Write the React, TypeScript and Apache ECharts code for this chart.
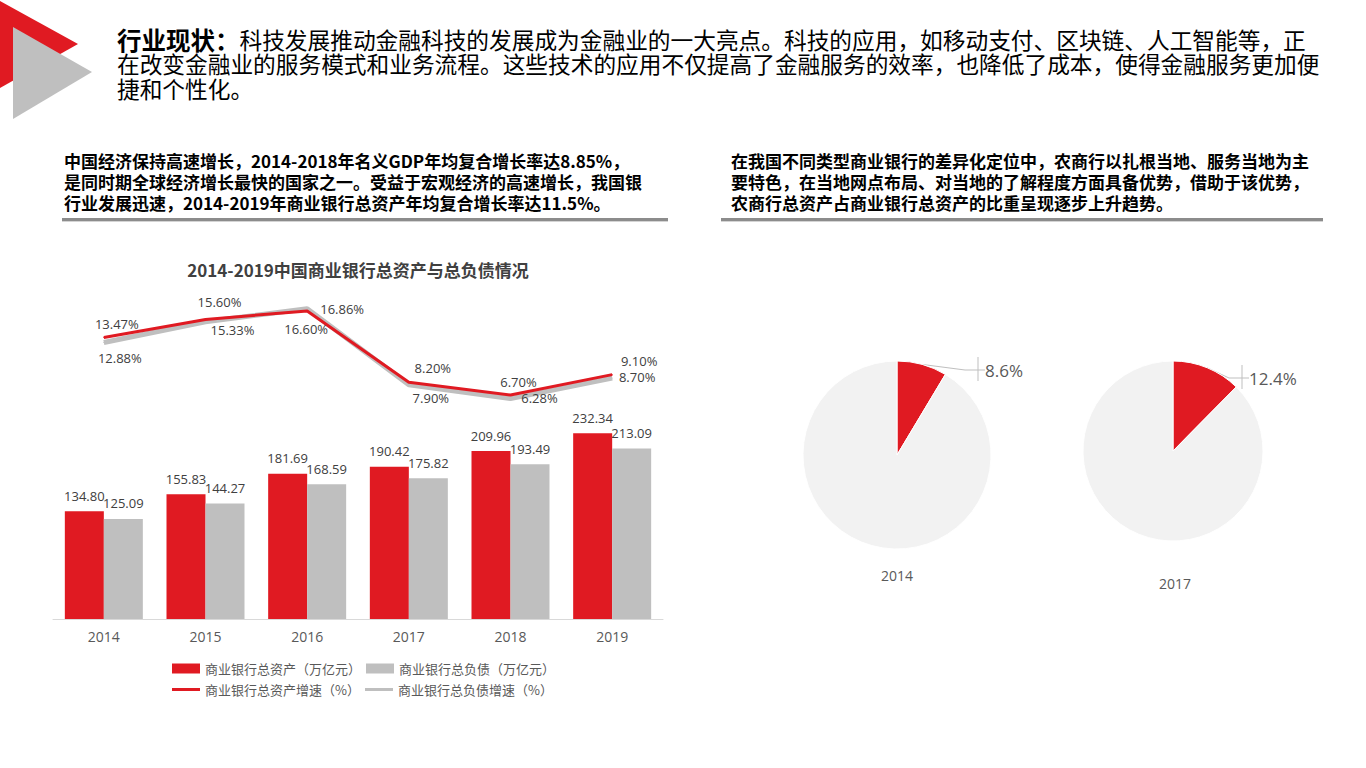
import React, { useEffect, useRef } from "react";
import * as echarts from "echarts";

// ---------- data ----------
const years = ["2014", "2015", "2016", "2017", "2018", "2019"];
const totalAssets = [134.8, 155.83, 181.69, 190.42, 209.96, 232.34];
const totalLiabilities = [125.09, 144.27, 168.59, 175.82, 193.49, 213.09];
const assetGrowth = [13.47, 15.6, 16.6, 8.2, 6.7, 9.1];
const liabilityGrowth = [12.88, 15.33, 16.86, 7.9, 6.28, 8.7];
const pieYears = ["2014", "2017"];
const ruralShare = [8.6, 12.4];

const seriesNames = [
  "商业银行总资产（万亿元）",
  "商业银行总负债（万亿元）",
  "商业银行总资产增速（%）",
  "商业银行总负债增速（%）",
];

const headerBold = "行业现状：";
const headerLines = [
  "科技发展推动金融科技的发展成为金融业的一大亮点。科技的应用，如移动支付、区块链、人工智能等，正",
  "在改变金融业的服务模式和业务流程。这些技术的应用不仅提高了金融服务的效率，也降低了成本，使得金融服务更加便",
  "捷和个性化。",
];
const leftLines = [
  "中国经济保持高速增长，2014-2018年名义GDP年均复合增长率达8.85%，",
  "是同时期全球经济增长最快的国家之一。受益于宏观经济的高速增长，我国银",
  "行业发展迅速，2014-2019年商业银行总资产年均复合增长率达11.5%。",
];
const rightLines = [
  "在我国不同类型商业银行的差异化定位中，农商行以扎根当地、服务当地为主",
  "要特色，在当地网点布局、对当地的了解程度方面具备优势，借助于该优势，",
  "农商行总资产占商业银行总资产的比重呈现逐步上升趋势。",
];
const chartTitle = "2014-2019中国商业银行总资产与总负债情况";

// ---------- styling ----------
const RED = "#e01a22";
const GRAY = "#bfbfbf";
const LIGHT = "#f2f2f2";
const TXT = "#404040";
const FONT = '"Open Sans", "Noto Sans CJK SC", sans-serif';
const CJK = '"Noto Sans CJK SC", sans-serif';

const assetLabelOffsets = [[13, -14], [14, -17], [-1, 18], [24, -14], [8, -13], [27, -14]];
const liabLabelOffsets = [[16, 15], [27, 8], [35, 0], [22, 13], [29, -1], [25, -1]];
const pieCenters = [[897, 455], [1173, 451]];
const pieRadii = [94, 90];
const pieLabelPos = [[978, 370], [1242, 378]];
const pieBrackets = [[978, 357, 381], [1242, 365, 389]];
const pieYearPos = [[897, 575], [1175, 583]];

export default function App() {
  const ref = useRef<HTMLDivElement>(null);
  useEffect(() => {
    if (!ref.current) return;
    const chart = echarts.init(ref.current, null, { renderer: "svg" });

    const lineLabel = (offsets: number[][], vals: number[]) =>
      vals.map((v, i) => ({
        value: v,
        label: { offset: offsets[i] },
      }));

    const pies = ruralShare.map((s, i) => ({
      type: "pie",
      center: pieCenters[i],
      radius: pieRadii[i],
      startAngle: 90,
      clockwise: true,
      silent: true,
      itemStyle: { borderColor: "#fff", borderWidth: 1 },
      label: {
        show: true,
        position: "outside",
        formatter: (p: any) => p.value + "%",
        fontSize: 17,
        color: "#595959",
        fontFamily: FONT,
        padding: [0, 0, 0, 7],
      },
      labelLayout: {
        x: pieLabelPos[i][0],
        y: pieLabelPos[i][1],
        align: "left",
        verticalAlign: "middle",
      },
      labelLine: { show: true, length: 6, length2: 20, lineStyle: { color: GRAY, width: 1 } },
      data: [
        { value: s, name: pieYears[i] + "农商行", itemStyle: { color: RED } },
        {
          value: +(100 - s).toFixed(1),
          name: pieYears[i] + "其他",
          itemStyle: { color: LIGHT },
          label: { show: false },
          labelLine: { show: false },
        },
      ],
    }));

    const headerTexts = headerLines.map((line, i) => ({
      type: "text",
      x: 117,
      y: 27 + i * 24.5,
      style: {
        text: i === 0 ? "{b|" + headerBold + "}" + line : line,
        fontSize: 22.7,
        fontFamily: CJK,
        lineHeight: 24.5,
        fill: "#000",
        verticalAlign: "top",
        rich: {
          b: { fontWeight: "bold", fontSize: 24.5, fontFamily: CJK, lineHeight: 24.5, fill: "#000" },
        },
      },
    }));

    const blockTexts = (lines: string[], x: number) =>
      lines.map((line, i) => ({
        type: "text",
        x,
        y: 150 + i * 21,
        style: {
          text: line,
          fontSize: 17,
          fontWeight: "bold",
          fontFamily: CJK,
          lineHeight: 21,
          fill: "#000",
          verticalAlign: "top",
        },
      }));

    chart.setOption({
      animation: false,
      backgroundColor: "#fff",
      textStyle: { fontFamily: FONT },
      grid: [
        { left: 53, width: 610, top: 419, height: 200 },
        { left: 53, width: 610, top: 282, height: 170 },
      ],
      xAxis: [
        {
          type: "category",
          gridIndex: 0,
          data: years,
          axisLine: { lineStyle: { color: "#d9d9d9" } },
          axisTick: { show: false },
          axisLabel: { fontSize: 14, color: "#595959", margin: 10, fontFamily: FONT },
        },
        { type: "category", gridIndex: 1, data: years, show: false },
      ],
      yAxis: [
        { type: "value", gridIndex: 0, min: 0, max: 250, show: false, splitLine: { show: false } },
        { type: "value", gridIndex: 1, min: 0, max: 20, show: false, splitLine: { show: false } },
      ],
      legend: [
        {
          data: [seriesNames[0], seriesNames[1]],
          left: 167,
          top: 657,
          itemWidth: 28,
          itemHeight: 10,
          itemGap: 5,
          icon: "rect",
          selectedMode: false,
          textStyle: { fontSize: 13, color: "#595959", fontFamily: CJK, width: 156 },
        },
        {
          data: [seriesNames[2], seriesNames[3]],
          left: 167,
          top: 678,
          itemWidth: 28,
          itemHeight: 3,
          itemGap: 5,
          icon: "rect",
          selectedMode: false,
          textStyle: { fontSize: 13, color: "#595959", fontFamily: CJK, width: 156 },
        },
      ],
      series: [
        {
          name: seriesNames[0],
          type: "bar",
          xAxisIndex: 0,
          yAxisIndex: 0,
          data: totalAssets,
          barWidth: 39,
          barGap: "0%",
          itemStyle: { color: RED },
          label: {
            show: true,
            position: "top",
            distance: 9,
            fontSize: 13,
            color: TXT,
            formatter: (p: any) => p.value.toFixed(2),
          },
          silent: true,
        },
        {
          name: seriesNames[1],
          type: "bar",
          xAxisIndex: 0,
          yAxisIndex: 0,
          data: totalLiabilities,
          barWidth: 39,
          barGap: "0%",
          itemStyle: { color: GRAY },
          label: {
            show: true,
            position: "top",
            distance: 9,
            fontSize: 13,
            color: TXT,
            formatter: (p: any) => p.value.toFixed(2),
          },
          silent: true,
        },
        {
          name: seriesNames[3],
          type: "line",
          xAxisIndex: 1,
          yAxisIndex: 1,
          data: lineLabel(liabLabelOffsets, liabilityGrowth),
          symbol: "circle",
          symbolSize: 1,
          itemStyle: { color: GRAY },
          lineStyle: { color: GRAY, width: 5 },
          z: 3,
          label: {
            show: true,
            position: "inside",
            fontSize: 13,
            color: TXT,
            formatter: (p: any) => p.value.toFixed(2) + "%",
          },
          silent: true,
        },
        {
          name: seriesNames[2],
          type: "line",
          xAxisIndex: 1,
          yAxisIndex: 1,
          data: lineLabel(assetLabelOffsets, assetGrowth),
          symbol: "circle",
          symbolSize: 1,
          itemStyle: { color: RED },
          lineStyle: { color: RED, width: 3 },
          z: 4,
          label: {
            show: true,
            position: "inside",
            fontSize: 13,
            color: TXT,
            formatter: (p: any) => p.value.toFixed(2) + "%",
          },
          silent: true,
        },
        ...pies,
      ],
      graphic: [
        { type: "polygon", shape: { points: [[0, 1], [78, 44], [0, 88]] }, style: { fill: RED } },
        { type: "polygon", shape: { points: [[13, 27], [92, 72], [13, 119]] }, style: { fill: GRAY } },
        ...headerTexts,
        ...blockTexts(leftLines, 64),
        ...blockTexts(rightLines, 731),
        { type: "rect", shape: { x: 62, y: 218, width: 606, height: 3 }, style: { fill: "#8c8c8c" } },
        { type: "rect", shape: { x: 62, y: 221, width: 606, height: 1 }, style: { fill: "#d4d4d4" } },
        { type: "rect", shape: { x: 721, y: 218, width: 602, height: 3 }, style: { fill: "#8c8c8c" } },
        { type: "rect", shape: { x: 721, y: 221, width: 602, height: 1 }, style: { fill: "#d4d4d4" } },
        {
          type: "text",
          x: 358,
          y: 269,
          style: {
            text: chartTitle,
            fontSize: 17,
            fontWeight: "bold",
            fontFamily: CJK,
            fill: TXT,
            align: "center",
            verticalAlign: "middle",
          },
        },
        ...pieBrackets.map((b) => ({
          type: "line",
          shape: { x1: b[0], y1: b[1], x2: b[0], y2: b[2] },
          style: { stroke: GRAY, lineWidth: 1 },
        })),
        ...pieYears.map((y, i) => ({
          type: "text",
          x: pieYearPos[i][0],
          y: pieYearPos[i][1],
          style: {
            text: y,
            fontSize: 14,
            fontFamily: FONT,
            fill: "#595959",
            align: "center",
            verticalAlign: "middle",
          },
        })),
      ],
    });
    return () => chart.dispose();
  }, []);

  return (
    <div
      ref={ref}
      style={{ position: "absolute", left: 0, top: 0, width: 1366, height: 768, background: "#fff" }}
    />
  );
}
